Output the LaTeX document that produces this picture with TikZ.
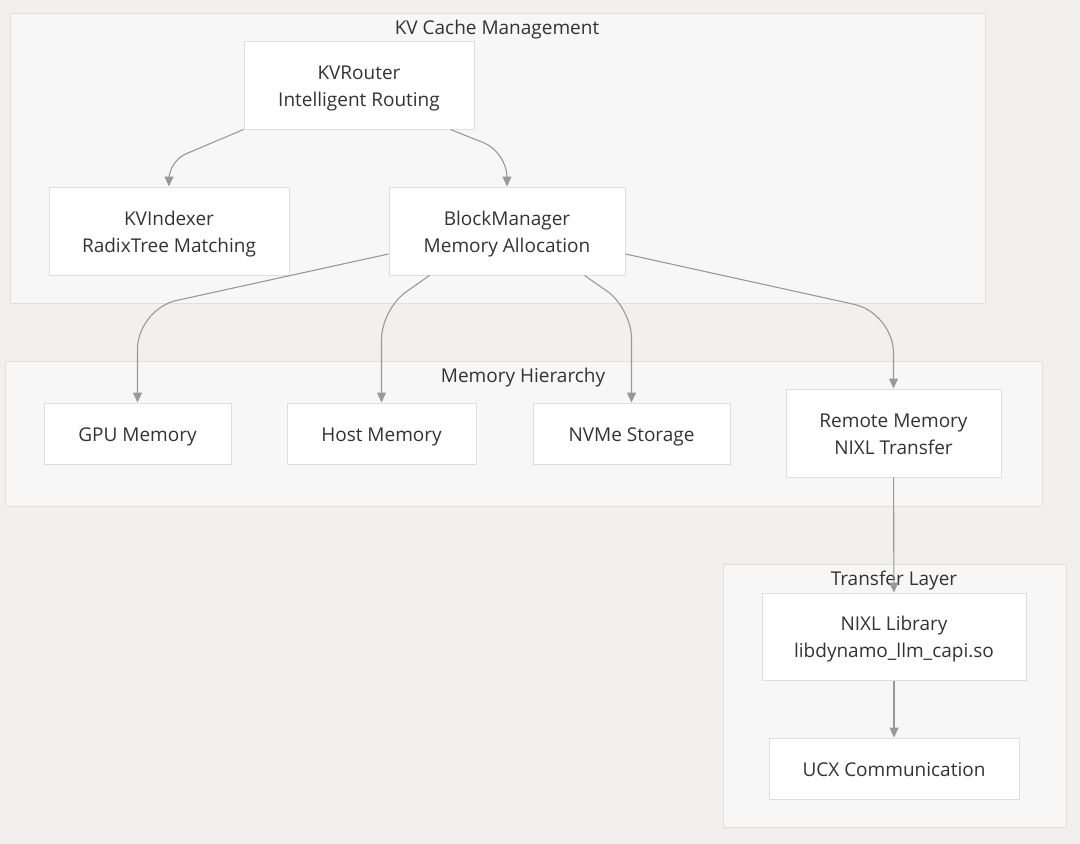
\documentclass[tikz,border=0pt]{standalone}
\usepackage{fontspec}
\setmainfont{Open Sans}
\usetikzlibrary{arrows.meta}

\definecolor{pagebg}{HTML}{F1F0EF}
\definecolor{clusterbg}{HTML}{F7F7F7}
\definecolor{clusterline}{HTML}{E0E0E0}
\definecolor{boxline}{HTML}{DEDEDE}
\definecolor{textgray}{HTML}{333333}
\definecolor{linkgray}{HTML}{999999}

\begin{document}
\begin{tikzpicture}[x=1pt, y=-1pt,
    cluster/.style={draw=clusterline, fill=clusterbg, line width=1pt},
    title/.style={text=textgray, font=\fontsize{19}{22}\selectfont},
    box/.style={draw=boxline, fill=white, line width=1pt, align=center,
        text=textgray, font=\fontsize{19}{27}\selectfont, inner sep=0pt,
        text height=20pt, text depth=5pt},
    twoline/.style={box, text height=47pt},
    link/.style={draw=linkgray, line width=1.1pt,
        -{Triangle[length=10pt, width=9pt]}}]
    % the page
    \fill[pagebg] (0,0) rectangle (1080,844);

    % the groups
    \draw[cluster] (10,13) rectangle (985,303);
    \node[title] (kvtitle) at (497,30) {KV Cache Management};
    \draw[cluster] (5,361) rectangle (1042,506);
    \node[title] (memtitle) at (523,378) {Memory Hierarchy};
    \draw[cluster] (723,564) rectangle (1066,827);
    \node[title] (xfertitle) at (894,581) {Transfer Layer};

    % the boxes
    \node[twoline, minimum width=230, minimum height=88] (router) at (359,85)
        {KVRouter\\Intelligent Routing};
    \node[twoline, minimum width=240, minimum height=88] (indexer) at (169,231)
        {KVIndexer\\RadixTree Matching};
    \node[twoline, minimum width=236, minimum height=88] (blockmgr) at (507,231)
        {BlockManager\\Memory Allocation};
    \node[box, minimum width=187, minimum height=61] (gpumem) at (137.5,433.5)
        {GPU Memory};
    \node[box, minimum width=189, minimum height=61] (hostmem) at (381.5,433.5)
        {Host Memory};
    \node[box, minimum width=197, minimum height=61] (nvme) at (631.5,433.5)
        {NVMe Storage};
    \node[twoline, minimum width=215, minimum height=88] (remote) at (893.5,433)
        {Remote Memory\\NIXL Transfer};
    \node[twoline, minimum width=264, minimum height=87] (nixl) at (894,636.5)
        {NIXL Library\\libdynamo\_llm\_capi.so};
    \node[box, minimum width=250, minimum height=61] (ucx) at (894,768.5)
        {UCX Communication};

    % the links
    \draw[link, rounded corners=18pt] (router.south west)
        -- (indexer.north |- 0,161) -- (indexer.north);
    \draw[link, rounded corners=25pt] ([xshift=-24pt]router.south east)
        -- (blockmgr.north |- 0,152) -- (blockmgr.north);
    \draw[link, rounded corners=40pt] ([yshift=-23pt]blockmgr.west)
        -- (gpumem.north |- 0,309) -- (gpumem.north);
    \draw[link, rounded corners=30pt] ([xshift=41pt]blockmgr.south west)
        -- (hostmem.north |- 0,309) -- (hostmem.north);
    \draw[link, rounded corners=30pt] ([xshift=-41pt]blockmgr.south east)
        -- (nvme.north |- 0,308) -- (nvme.north);
    \draw[link, rounded corners=40pt] ([yshift=-23pt]blockmgr.east)
        -- (remote.north |- 0,313) -- (remote.north);
    \draw[link] (remote) -- (nixl);
    \draw[link] (nixl) -- (ucx);
\end{tikzpicture}
\end{document}
